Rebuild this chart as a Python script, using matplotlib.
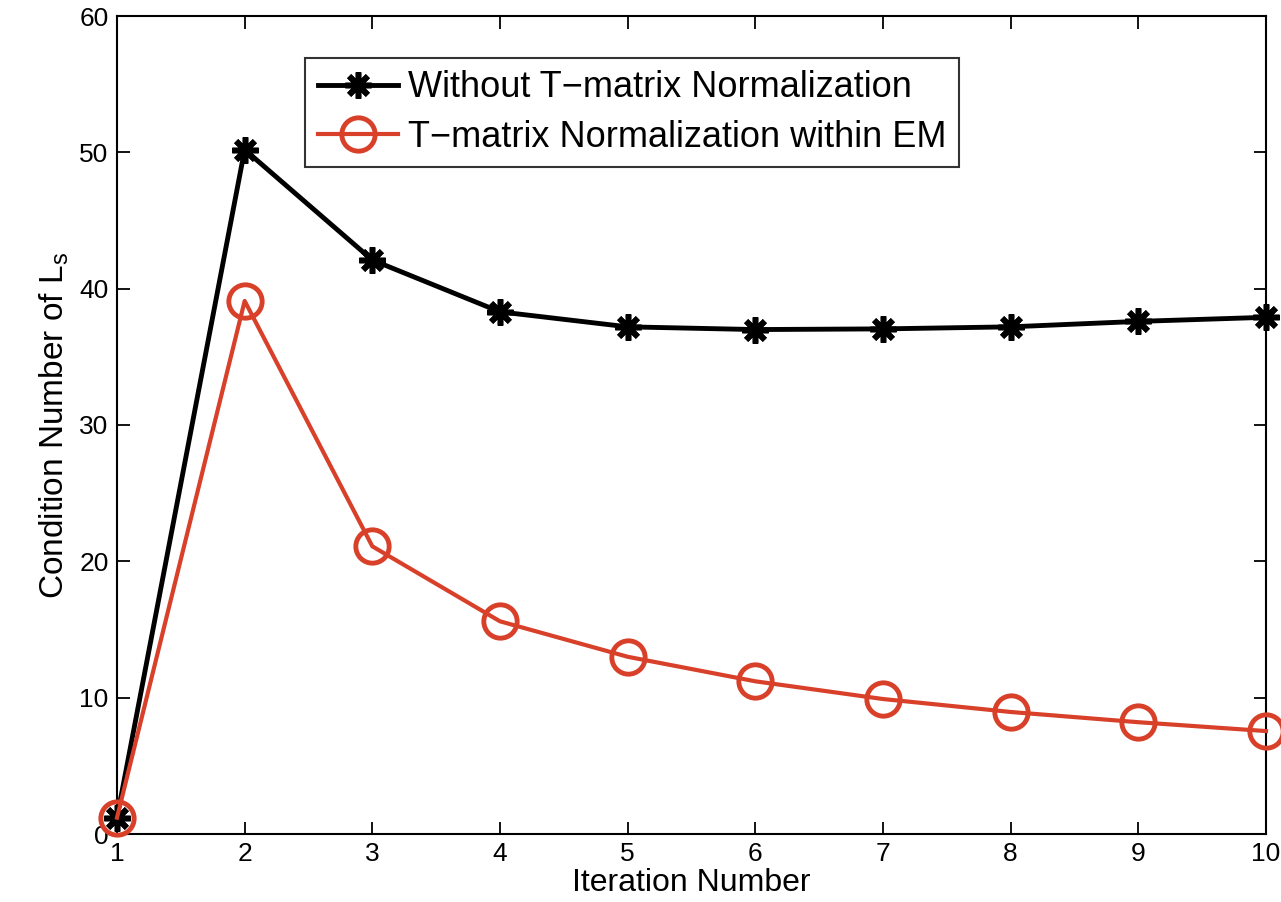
import numpy as np
import matplotlib.pyplot as plt

plt.rcParams['font.family'] = ['Liberation Sans', 'DejaVu Sans']

iters = [1, 2, 3, 4, 5, 6, 7, 8, 9, 10]
without_norm = [1.2, 50.2, 42.1, 38.3, 37.2, 37.0, 37.05, 37.2, 37.6, 37.9]
with_norm = [1.2, 39.1, 21.1, 15.6, 13.0, 11.2, 9.9, 8.95, 8.2, 7.55]

fig = plt.figure(figsize=(12.81, 9.02), dpi=100)
ax = fig.add_axes([117 / 1281, 1 - 834 / 902, (1266 - 117) / 1281, (834 - 16) / 902])

ax.plot(iters, without_norm, color='black', lw=3.5, marker=(8, 2, 0), ms=19,
        mew=4, label='Without T\u2212matrix Normalization', clip_on=False, zorder=3)
ax.plot(iters, with_norm, color='#d8402a', lw=3, marker='o', ms=24, mfc='none',
        mew=3.5, label='T\u2212matrix Normalization within EM', clip_on=False, zorder=4)

ax.set_xlim(1, 10)
ax.set_ylim(0, 60)
ax.set_xticks(iters)
ax.set_yticks(np.arange(0, 61, 10))
ax.tick_params(direction='in', length=9, width=1.3, labelsize=19, top=True, right=True, pad=6)
for s in ax.spines.values():
    s.set_linewidth(1.5)

ax.set_xlabel('Iteration Number', fontsize=23, labelpad=1)
ax.set_ylabel('Condition Number of L$_\\mathregular{s}$', fontsize=24, labelpad=6)

leg = ax.legend(loc='upper left', bbox_to_anchor=(0.164, 0.949), fontsize=26,
                frameon=True, fancybox=False, edgecolor='black', handlelength=2.2,
                borderpad=0.35, labelspacing=0.4, handletextpad=0.3, borderaxespad=0)
leg.get_frame().set_linewidth(1.5)

fig.savefig('out.png', dpi=100)
